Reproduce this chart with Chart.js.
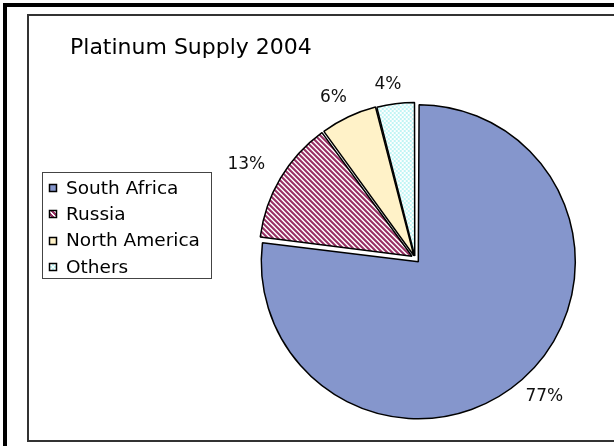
<!DOCTYPE html>
<html lang="en">
<head>
    <meta charset="UTF-8">
    <title>Platinum Supply 2004</title>
    <script src="https://cdn.jsdelivr.net/npm/chart.js"></script>
    <style>
      body { margin: 0; background: #fff; }
    </style>
</head>
<body>
    <canvas id="myChart" width="614" height="446"></canvas>
    <script>
      // data
      const categories = ['South Africa', 'Russia', 'North America', 'Others'];
      const shares = [77, 13, 6, 4];
      const titleText = 'Platinum Supply 2004';

      // patterns like the old excel fills
      function fn_stripes(){
        let c = document.createElement('canvas');
        c.width = 5; c.height = 5;
        let g = c.getContext('2d');
        g.fillStyle = '#ffffff';
        g.fillRect(0, 0, 5, 5);
        g.fillStyle = '#993366';
        for(let y = 0; y < 5; y++){
          for(let x = 0; x < 5; x++){
            let k = ((x - y) % 5 + 5) % 5;
            if(k < 3) g.fillRect(x, y, 1, 1);
          }
        }
        return g.createPattern(c, 'repeat');
      }
      function fn_checker(){
        let c = document.createElement('canvas');
        c.width = 4; c.height = 4;
        let g = c.getContext('2d');
        g.fillStyle = '#ffffff';
        g.fillRect(0, 0, 4, 4);
        g.fillStyle = '#bff5f5';
        g.fillRect(0, 0, 2, 2);
        g.fillRect(2, 2, 2, 2);
        return g.createPattern(c, 'repeat');
      }
      const fills = ['#8596cc', fn_stripes(), '#fff2c8', fn_checker()];

      // frame, title and legend box
      const framePlugin = {
        id: 'frame',
        beforeDraw(chart){
          const c = chart.ctx;
          c.save();
          c.fillStyle = '#fff';
          c.fillRect(0, 0, chart.width, chart.height);
          c.strokeStyle = '#000';
          c.lineWidth = 4;
          c.strokeRect(5, 5, 700, 700);
          c.strokeStyle = '#333';
          c.lineWidth = 2;
          c.strokeRect(28, 15, 700, 426);

          c.fillStyle = '#000';
          c.font = '22px "DejaVu Sans"';
          c.textBaseline = 'alphabetic';
          c.fillText(titleText, 70, 54);

          // legend
          c.strokeStyle = '#444';
          c.lineWidth = 1;
          c.strokeRect(42.5, 172.5, 169, 106);
          c.font = '18.5px "DejaVu Sans"';
          c.textBaseline = 'middle';
          for(let i = 0; i < categories.length; i++){
            let y = 188 + i * 26.3;
            c.fillStyle = fills[i];
            c.fillRect(49, Math.round(y) - 4, 8, 8);
            c.strokeStyle = '#000';
            c.lineWidth = 1.5;
            c.strokeRect(49.5, Math.round(y) - 3.5, 7, 7);
            c.fillStyle = '#000';
            c.fillText(categories[i], 66, y + 1);
          }
          c.restore();
        }
      };

      // percent labels outside the slices
      const labelPlugin = {
        id: 'pctLabels',
        afterDatasetsDraw(chart){
          const c = chart.ctx;
          const meta = chart.getDatasetMeta(0);
          const total = shares.reduce((a, b) => a + b, 0);
          c.save();
          c.font = '17px "DejaVu Sans"';
          c.fillStyle = '#111';
          c.textAlign = 'center';
          c.textBaseline = 'middle';
          meta.data.forEach((arc, i) => {
            let p = arc.getProps(['x', 'y', 'startAngle', 'endAngle', 'outerRadius'], true);
            let a = (p.startAngle + p.endAngle) / 2 - 0.03;
            let txt = Math.round(shares[i] / total * 100) + '%';
            let hw = c.measureText(txt).width / 2;
            let hh = 8;
            let r = p.outerRadius + 12 + 1.5 * hw * Math.abs(Math.cos(a)) + hh * Math.abs(Math.sin(a));
            c.fillText(txt, p.x + Math.cos(a) * r, p.y + Math.sin(a) * r);
          });
          c.restore();
        }
      };

      const ctx = document.getElementById('myChart');
      let configs = {
        type: 'pie',
        data: {
          labels: categories,
          datasets: [{
            data: shares,
            backgroundColor: fills,
            borderColor: '#000',
            borderWidth: 1.5,
            offset: [20, 14, 10, 8]
          }]
        },
        options: {
          responsive: false,
          animation: false,
          radius: 152,
          layout: { padding: { left: 240, right: 24, top: 100, bottom: 30 } },
          plugins: {
            legend: { display: false },
            tooltip: { enabled: false }
          }
        },
        plugins: [framePlugin, labelPlugin]
      };
      let myChart = new Chart(ctx, configs);
    </script>
</body>
</html>
